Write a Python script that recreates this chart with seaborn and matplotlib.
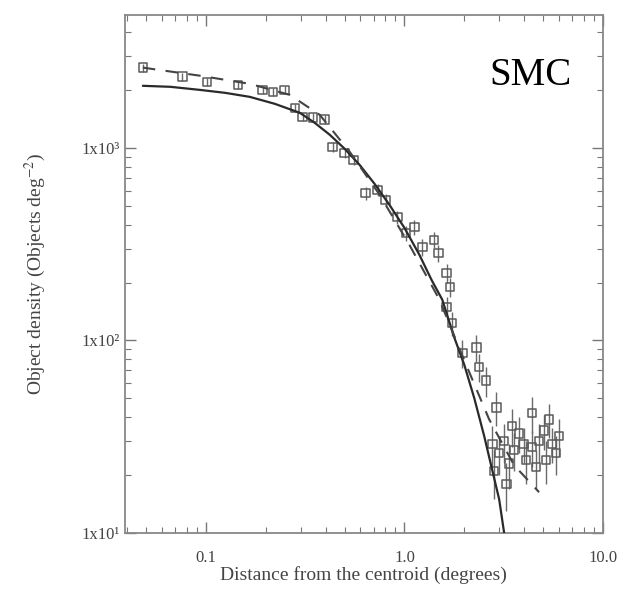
import matplotlib
matplotlib.use("Agg")
import matplotlib.pyplot as plt
import seaborn as sns
import numpy as np
import pandas as pd
from matplotlib.ticker import LogLocator, NullFormatter, FixedLocator, FixedFormatter

# ---- data ----
obs_r = [0.048, 0.076, 0.101, 0.145, 0.193, 0.217, 0.249, 0.280, 0.307, 0.345,
         0.396, 0.435, 0.50, 0.554, 0.637, 0.732, 0.803, 0.922, 1.02, 1.12,
         1.23, 1.41, 1.48, 1.63, 1.63, 1.70, 1.74, 1.96, 2.30, 2.38,
         2.58, 2.77, 2.83, 2.90, 3.00, 3.18, 3.26, 3.37, 3.49, 3.56,
         3.78, 3.98, 4.10, 4.40, 4.40, 4.60, 4.77, 5.05, 5.17, 5.35,
         5.54, 5.80, 6.00]
obs_density = [2610, 2340, 2200, 2125, 2000, 1955, 2000, 1614, 1450, 1435,
               1400, 1012, 942, 866, 584, 605, 537, 438, 362, 389,
               306, 333, 285, 224, 149, 190, 123, 86, 92, 73,
               62, 29, 21, 45, 26, 30, 18, 23, 36, 27,
               33, 29, 24, 42, 28, 22, 30, 34, 24, 39,
               29, 26, 32]
obs_err = [120, 110, 100, 100, 95, 95, 95, 80, 75, 75,
           75, 60, 60, 55, 45, 45, 40, 35, 32, 34,
           30, 32, 28, 25, 20, 22, 18, 14, 15, 12,
           11, 7, 6, 9, 6, 7, 5, 6, 8, 6,
           7, 6, 6, 9, 6, 5, 7, 7, 6, 8,
           6, 6, 7]

solid_r = [0.048, 0.066, 0.093, 0.125, 0.166, 0.222, 0.297, 0.353, 0.42, 0.50,
           0.594, 0.707, 0.84, 1.0, 1.19, 1.37, 1.55, 1.78, 2.0, 2.25,
           2.52, 3.0, 3.18]
solid_density = [2100, 2075, 2000, 1930, 1840, 1693, 1520, 1348, 1170, 988,
                 816, 650, 506, 384, 278, 206, 163, 104, 75, 50,
                 32, 15, 10]

dashed_r = [0.048, 0.093, 0.166, 0.264, 0.374, 0.53, 0.75, 1.06, 1.50, 2.0, 2.67, 3.57, 4.77]
dashed_density = [2610, 2370, 2150, 1885, 1484, 953, 570, 313, 163, 79, 39, 22.5, 16.3]

x_ticks = [0.1, 1.0, 10.0]
x_tick_labels = ["0.1", "1.0", "10.0"]
y_ticks = [10, 100, 1000]
y_tick_labels = ["1x10\u00b9", "1x10\u00b2", "1x10\u00b3"]

# ---- figure ----
sns.set_theme(style="ticks")
plt.rcParams["font.family"] = ["Liberation Serif", "DejaVu Serif"]
plt.rcParams["mathtext.fontset"] = "stix"

fig = plt.figure(figsize=(6.28, 5.97), dpi=100)
ax = fig.add_axes([0.199, 0.107, 0.761, 0.868])

obs = pd.DataFrame({"r": obs_r, "density": obs_density, "err": obs_err})
solid = pd.DataFrame({"r": solid_r, "density": solid_density})
dashed = pd.DataFrame({"r": dashed_r, "density": dashed_density})

ax.errorbar(obs["r"], obs["density"], yerr=obs["err"], fmt="none",
            ecolor="#6a6a6a", elinewidth=1.0, capsize=0, zorder=2)
sns.scatterplot(data=obs, x="r", y="density", ax=ax, marker="s", s=38,
                facecolor="none", edgecolor="#5a5a5a", linewidth=1.1, zorder=3)
sns.lineplot(data=solid, x="r", y="density", ax=ax, color="#2a2a2a",
             linewidth=1.6, estimator=None, sort=False, zorder=4)
sns.lineplot(data=dashed, x="r", y="density", ax=ax, color="#444444",
             linewidth=1.5, linestyle=(0, (6, 5)), estimator=None, sort=False, zorder=4)

ax.set_xscale("log")
ax.set_yscale("log")
ax.set_xlim(0.039, 10.0)
ax.set_ylim(10, 4900)

ax.xaxis.set_major_locator(FixedLocator(x_ticks))
ax.xaxis.set_major_formatter(FixedFormatter(x_tick_labels))
ax.yaxis.set_major_locator(FixedLocator(y_ticks))
ax.yaxis.set_major_formatter(FixedFormatter(y_tick_labels))
ax.xaxis.set_minor_locator(LogLocator(base=10, subs=np.arange(2, 10)))
ax.yaxis.set_minor_locator(LogLocator(base=10, subs=np.arange(2, 10)))
ax.xaxis.set_minor_formatter(NullFormatter())
ax.yaxis.set_minor_formatter(NullFormatter())

ax.tick_params(which="both", direction="in", top=True, right=True,
               color="#777777", labelcolor="#444444", labelsize=12)
ax.tick_params(which="major", length=8, width=1.0)
ax.tick_params(which="minor", length=4, width=0.8)
ax.tick_params(axis="x", which="major", pad=12)
for sp in ax.spines.values():
    sp.set_color("#888888")
    sp.set_linewidth(1.3)

ax.set_xlabel("Distance from the centroid (degrees)", fontsize=14, color="#444444", labelpad=0)
ax.set_ylabel("Object density (Objects deg$^{-2}$)", fontsize=14, color="#444444", labelpad=24)

ax.text(0.935, 0.865, "SMC", transform=ax.transAxes, ha="right", va="baseline",
        fontsize=28, color="black")

fig.savefig("out.png", dpi=100)
